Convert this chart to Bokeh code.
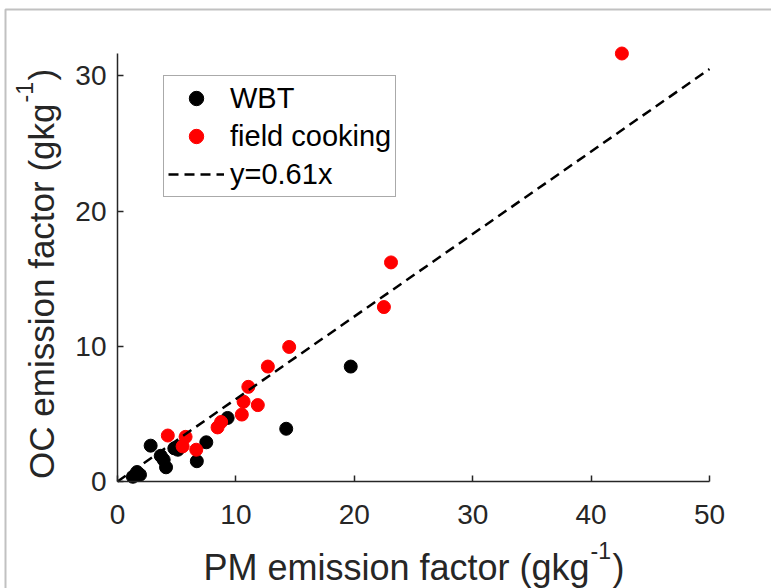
import math
from bokeh.plotting import figure
from bokeh.models import Range1d, Label, Legend, LegendItem, BoxAnnotation, FixedTicker, LinearAxis
from bokeh.embed import file_html
from bokeh.resources import INLINE

# ---- data ----
wbt_pm = [1.3, 1.65, 1.9, 2.8, 3.65, 3.9, 4.1, 4.8, 5.1, 5.3, 6.7, 7.5, 9.3, 14.25, 19.7]
wbt_oc = [0.35, 0.7, 0.5, 2.65, 1.9, 1.6, 1.05, 2.45, 2.35, 2.55, 1.5, 2.9, 4.7, 3.9, 8.5]

field_pm = [4.25, 5.5, 5.75, 6.65, 8.45, 8.75, 10.5, 10.65, 11.05, 11.85, 12.7, 14.5, 22.5, 23.1, 42.6]
field_oc = [3.4, 2.6, 3.3, 2.35, 4.0, 4.4, 4.95, 5.9, 7.0, 5.65, 8.5, 9.95, 12.9, 16.2, 31.65]

fit_slope = 0.61
fit_pm = [0, 50]
fit_oc = [fit_slope * v for v in fit_pm]

x_ticks = [0, 10, 20, 30, 40, 50]
y_ticks = [0, 10, 20, 30]

X_MAX = 50
Y_MAX = 31.65

# ---- layout: the frame covers the whole canvas, axes are pinned at 0 ----
W, H = 771, 588
FL, FR, FT, FB = 117, 62, 53, 107          # where the axes box sits in the picture
FW = W - FL - FR
FH = H - FT - FB
AX = "#262626"
FONT = "Liberation Sans"

def dx(px):
    return (px - FL) * X_MAX / FW

def dy(py):
    return (FT + FH - py) * Y_MAX / FH

p = figure(width=W, height=H,
           x_range=Range1d(dx(0), dx(W)), y_range=Range1d(dy(H), dy(0)),
           x_axis_location=None, y_axis_location=None,
           output_backend="svg", toolbar_location=None,
           min_border=0, min_border_left=0, min_border_right=0,
           min_border_top=0, min_border_bottom=0)
p.outline_line_color = None
p.xgrid.visible = False
p.ygrid.visible = False
p.background_fill_color = "white"
p.border_fill_color = "white"

xaxis = LinearAxis(fixed_location=0, bounds=(0, X_MAX))
yaxis = LinearAxis(fixed_location=0, bounds=(0, Y_MAX))
p.add_layout(xaxis, "below")
p.add_layout(yaxis, "left")

for ax, ticks in ((xaxis, x_ticks), (yaxis, y_ticks)):
    ax.ticker = FixedTicker(ticks=ticks)
    ax.major_tick_in = 6
    ax.major_tick_out = 0
    ax.minor_tick_in = 0
    ax.minor_tick_out = 0
    ax.axis_line_color = AX
    ax.axis_line_width = 1.5
    ax.major_tick_line_color = AX
    ax.major_tick_line_width = 1.5
    ax.major_label_text_font = FONT
    ax.major_label_text_font_size = "28px"
    ax.major_label_text_color = AX
xaxis.major_label_standoff = 23
yaxis.major_label_standoff = 11

r_wbt = p.scatter(wbt_pm, wbt_oc, size=13, fill_color="black", line_color="black")
r_field = p.scatter(field_pm, field_oc, size=13, fill_color="#ff0000", line_color="#ff0000")
r_fit = p.line(fit_pm, fit_oc, line_color="black", line_width=2.5, line_dash="10 6")

legend = Legend(items=[LegendItem(label="WBT", renderers=[r_wbt]),
                       LegendItem(label="field cooking", renderers=[r_field]),
                       LegendItem(label="y=0.61x", renderers=[r_fit])],
                location=(163, H - 77 - 120),
                padding=4, glyph_width=56, label_standoff=6,
                glyph_height=36, label_height=36, spacing=2, margin=0,
                border_line_color="#555555", border_line_width=1,
                background_fill_color="white", background_fill_alpha=1,
                label_text_font=FONT, label_text_font_size="29px",
                label_text_color="black")
p.add_layout(legend, "center")

# ---- axis titles with superscripts ----
SSZ = "23px"
sup_w = 22
# x title
XSZ = "36px"
xa = 590
xb = 567      # baseline of the main text
p.add_layout(Label(x=dx(xa - 1), y=dy(xb), text="PM emission factor (gkg", text_align="right",
                   text_baseline="alphabetic", text_font=FONT, text_font_size=XSZ, text_color=AX))
p.add_layout(Label(x=dx(xa), y=dy(xb - 17), text="-1", text_align="left",
                   text_baseline="alphabetic", text_font=FONT, text_font_size=SSZ, text_color=AX))
p.add_layout(Label(x=dx(xa + sup_w), y=dy(xb), text=")", text_align="left",
                   text_baseline="alphabetic", text_font=FONT, text_font_size=XSZ, text_color=AX))
# y title (rotated)
YSZ = "35px"
ya = 102
yb = 41       # baseline of the main text
p.add_layout(Label(x=dx(yb), y=dy(ya + 1), text="OC emission factor (gkg", text_align="right", angle=math.pi / 2,
                   text_baseline="alphabetic", text_font=FONT, text_font_size=YSZ, text_color=AX))
p.add_layout(Label(x=dx(yb - 17), y=dy(ya), text="-1", text_align="left", angle=math.pi / 2,
                   text_baseline="alphabetic", text_font=FONT, text_font_size=SSZ, text_color=AX))
p.add_layout(Label(x=dx(yb), y=dy(ya - sup_w), text=")", text_align="left", angle=math.pi / 2,
                   text_baseline="alphabetic", text_font=FONT, text_font_size=YSZ, text_color=AX))

# thin frame around the picture (as in the reference screenshot)
p.add_layout(BoxAnnotation(left=dx(5), right=dx(W + 20), top=dy(9), bottom=dy(H + 20),
                           fill_color=None, fill_alpha=0, line_color="#333333", line_width=2))

open("out.html", "w").write(file_html(p, INLINE))
